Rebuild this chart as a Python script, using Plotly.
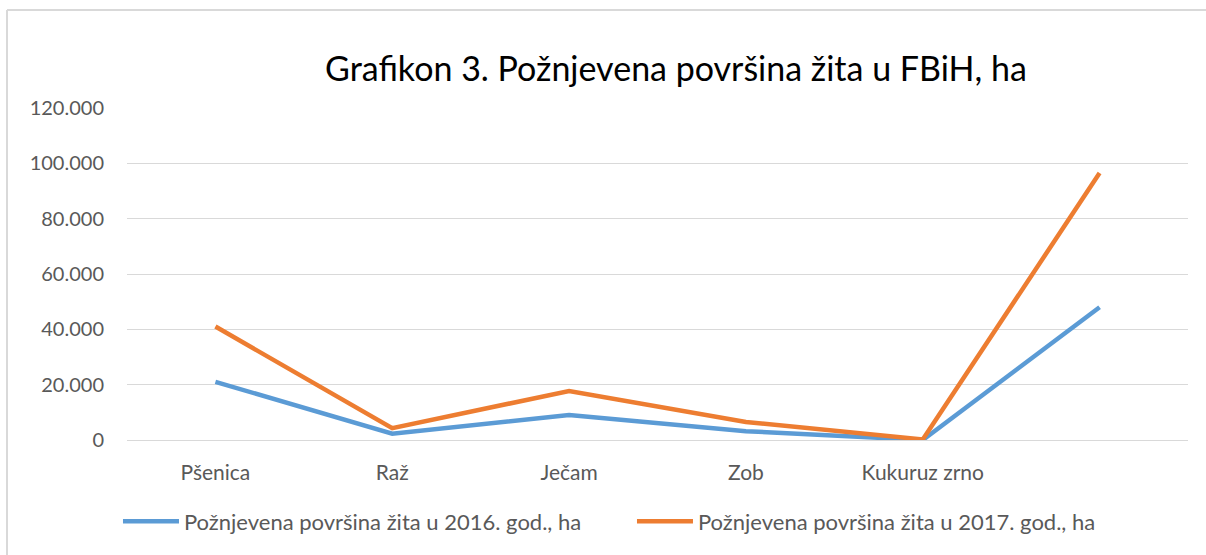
import plotly.graph_objects as go

categories = ["Pšenica", "Raž", "Ječam", "Zob", "Kukuruz zrno", " "]
povrsina_2016 = [21000, 2300, 9000, 3200, 0, 48000]
povrsina_2017 = [41000, 4300, 17700, 6500, 200, 96500]

series_names = [
	"Požnjevena površina žita u 2016. god., ha",
	"Požnjevena površina žita u 2017. god., ha",
]

font_family = "Lato, 'Open Sans', sans-serif"

fig = go.Figure()

fig.add_trace(
	go.Scatter(
		x=categories,
		y=povrsina_2016,
		mode="lines",
		name=series_names[0],
		line=dict(color="#5b9bd5", width=4.5),
	)
)

fig.add_trace(
	go.Scatter(
		x=categories,
		y=povrsina_2017,
		mode="lines",
		name=series_names[1],
		line=dict(color="#ed7d31", width=4.5),
	)
)

fig.update_layout(
	width=1206,
	height=555,
	margin=dict(l=127, r=18, t=108, b=115),
	paper_bgcolor="white",
	plot_bgcolor="white",
	separators=",.",
	font=dict(family=font_family, color="#595959", size=20),
	title=dict(
		text="Grafikon 3. Požnjevena površina žita u FBiH, ha",
		x=0.5605,
		xanchor="center",
		y=0.875,
		yanchor="middle",
		font=dict(size=34, color="#000000", family=font_family),
	),
	legend=dict(
		orientation="h",
		x=-0.0085,
		xanchor="left",
		y=-0.245,
		yanchor="middle",
		font=dict(size=22, color="#595959"),
		itemwidth=56,
		entrywidth=443,
	),
	showlegend=True,
)

fig.update_xaxes(
	type="category",
	range=[-0.5, 5.5],
	showgrid=False,
	showline=False,
	zeroline=False,
	ticks="",
	tickfont=dict(size=21),
	ticklabelstandoff=18,
)

fig.update_yaxes(
	range=[0, 120000],
	dtick=20000,
	tickformat=",d",
	showgrid=True,
	gridcolor="#d9d9d9",
	gridwidth=1,
	zeroline=True,
	zerolinecolor="#d9d9d9",
	zerolinewidth=1,
	showline=False,
	ticks="",
	ticklabelstandoff=22,
)

# chart frame (left and top edges visible)
fig.add_shape(type="line", xref="paper", yref="paper",
	x0=-0.1131, x1=-0.1131, y0=1.295, y1=-0.35,
	line=dict(color="#d9d9d9", width=2))
fig.add_shape(type="line", xref="paper", yref="paper",
	x0=-0.1131, x1=1.02, y0=1.295, y1=1.295,
	line=dict(color="#d9d9d9", width=2))

fig.write_html(
	"out.html",
	config={"displayModeBar": False},
	post_script="document.body.style.margin='0';",
)
